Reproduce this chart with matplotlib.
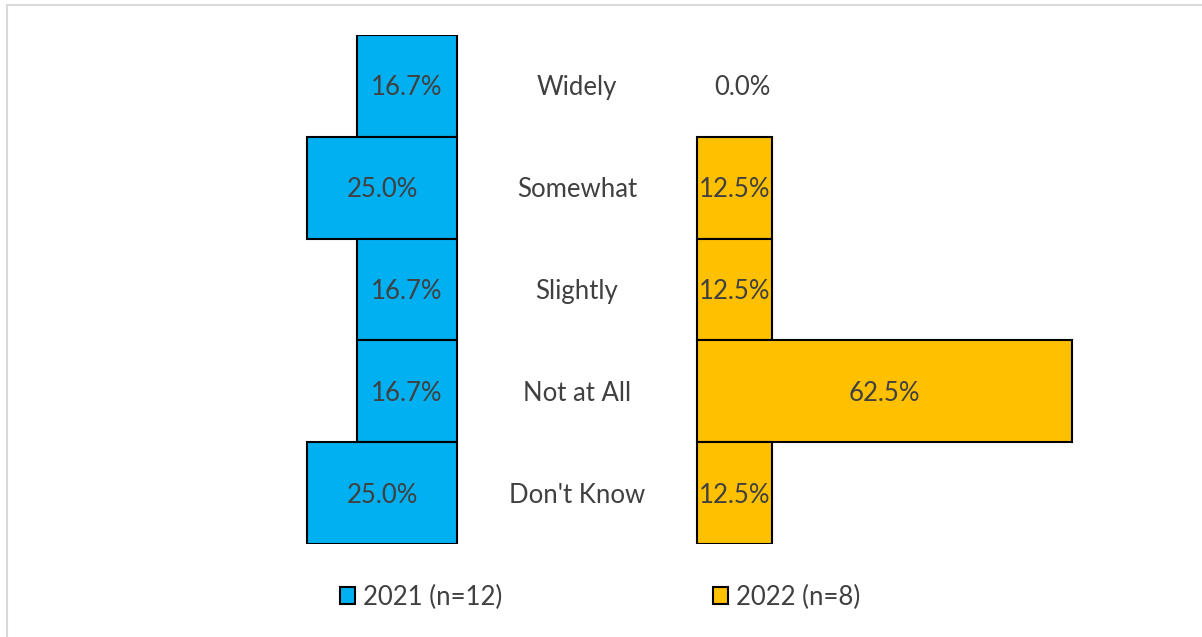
import matplotlib.pyplot as plt
from matplotlib.patches import Rectangle, Patch

categories = ["Widely", "Somewhat", "Slightly", "Not at All", "Don't Know"]
vals_2021 = [16.7, 25.0, 16.7, 16.7, 25.0]
vals_2022 = [0.0, 12.5, 12.5, 62.5, 12.5]
labels = ["2021 (n=12)", "2022 (n=8)"]

blue = "#00B0F0"
gold = "#FFC000"
txt = "#404040"
gap = 40  # space between the two sides, in percent units
fs = 18.5

plt.rcParams['font.family'] = ['Lato', 'DejaVu Sans']

W, H = 1202, 637
fig = plt.figure(figsize=(W / 100, H / 100), dpi=100)

# light gray chart border (runs off the right/bottom edges)
fig.patches.append(Rectangle((7 / W, -0.05), 1.1, 1 - 5 / H + 0.05, transform=fig.transFigure,
                             fill=False, edgecolor="#D9D9D9", linewidth=1.5))

ax = fig.add_axes([7 / W, (H - 544) / H, (W - 7) / W, 509 / H])
ax.set_xlim((7 - 457) / 6, (W - 457) / 6)
ax.set_ylim(4.5, -0.5)
ax.axis("off")

y = range(len(categories))
ax.barh(y, vals_2021, left=[-v for v in vals_2021], height=1.0, color=blue,
        edgecolor="black", linewidth=[1.5 if v > 0 else 0 for v in vals_2021])
ax.barh(y, vals_2022, left=gap, height=1.0, color=gold,
        edgecolor="black", linewidth=[1.5 if v > 0 else 0 for v in vals_2022])

for i, (a, b, c) in enumerate(zip(vals_2021, vals_2022, categories)):
    yy = i + 0.02
    ax.text(-a / 2, yy, f"{a:.1f}%", ha="center", va="center", fontsize=fs, color=txt)
    bx = gap + b / 2 if b > 0 else gap + 7.5
    ax.text(bx, yy, f"{b:.1f}%", ha="center", va="center", fontsize=fs, color=txt)
    ax.text(gap / 2, yy, c, ha="center", va="center", fontsize=fs, color=txt)

handles = [Patch(facecolor=blue, edgecolor="black", linewidth=1.5),
           Patch(facecolor=gold, edgecolor="black", linewidth=1.5)]
fig.legend(handles, labels, loc="center", bbox_to_anchor=(600 / W, 1 - 597 / H), ncol=2,
           frameon=False, fontsize=fs, labelcolor=txt, handlelength=0.6, handleheight=0.6,
           handletextpad=0.3, columnspacing=8.2)

fig.savefig("out.png", dpi=100)
